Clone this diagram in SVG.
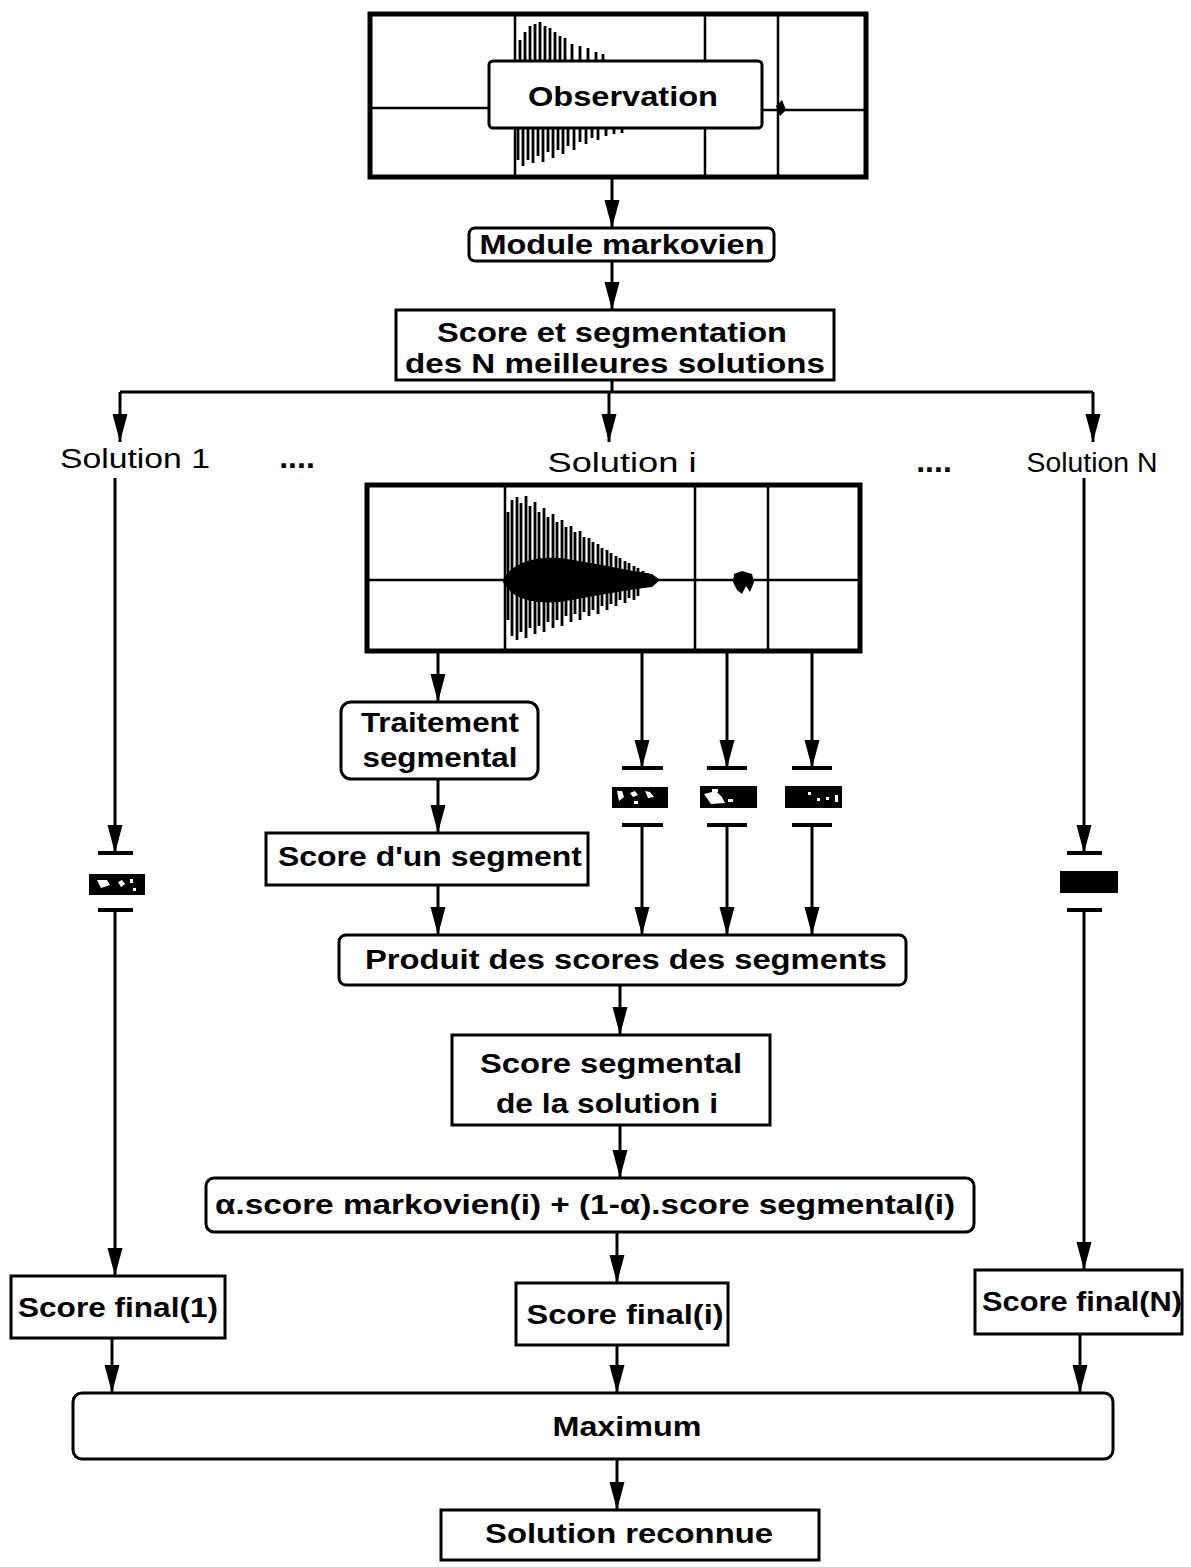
<svg xmlns="http://www.w3.org/2000/svg" width="1191" height="1567" viewBox="0 0 1191 1567">
<defs>
<style>
.box{fill:#fff;stroke:#000;stroke-width:3}
.frame{fill:#fff;stroke:#000;stroke-width:5}
.grid{fill:none;stroke:#000;stroke-width:2.5}
.wave{fill:none;stroke:#000;stroke-width:2.8}
.conn{fill:none;stroke:#000;stroke-width:3}
.bar{fill:none;stroke:#000;stroke-width:4}
.t{font-family:"Liberation Sans",Arial,sans-serif;font-weight:bold;font-size:27px;text-anchor:middle;fill:#000}
.lbl{font-family:"Liberation Sans",Arial,sans-serif;font-size:27px;text-anchor:middle;fill:#000}
.dots{font-family:"Liberation Sans",Arial,sans-serif;font-weight:bold;font-size:32px;text-anchor:middle;fill:#000}
</style>
<marker id="ah" viewBox="0 0 28 16" refX="28" refY="8" markerWidth="28" markerHeight="16" markerUnits="userSpaceOnUse" orient="auto"><path d="M0,0.5 L28,8 L0,15.5 Z" fill="#000"/></marker>
</defs>
<rect width="1191" height="1567" fill="#fff"/>

<g id="observation">
<rect class="frame" x="370" y="14" width="496" height="163"/>
<path class="grid" d="M515,16 V176 M705,16 V176 M778,16 V176 M372,108 H490 M762,110 H864"/>
<path class="wave" d="M520,60 V40 M525,60 V32 M530,60 V26 M535,60 V24 M540,60 V22 M545,60 V26 M550,60 V28 M555,60 V32 M560,60 V36 M565,60 V38 M572,60 V44 M580,60 V46 M588,60 V48 M596,60 V52 M603,60 V54 M518,128 V160 M523,128 V166 M528,128 V160 M533,128 V163 M538,128 V156 M543,128 V162 M548,128 V152 M553,128 V158 M558,128 V150 M563,128 V154 M568,128 V146 M574,128 V150 M580,128 V142 M586,128 V144 M592,128 V138 M598,128 V140 M606,128 V136 M614,128 V134 M622,128 V133"/>
<path d="M776,106 L782,100 L786,110 L780,116 Z" fill="#000"/>
<rect class="box" x="489" y="61" width="273" height="67" rx="4"/>
<text class="t" x="623" y="106" font-size="28" textLength="190" lengthAdjust="spacingAndGlyphs">Observation</text>
</g>

<g id="module">
<rect class="box" x="469" y="228" width="305" height="33" rx="6"/>
<text class="t" x="622" y="254" textLength="285" lengthAdjust="spacingAndGlyphs">Module markovien</text>
</g>

<g id="score-seg">
<rect class="box" x="396" y="310" width="438" height="70"/>
<text class="t" x="612" y="342" textLength="350" lengthAdjust="spacingAndGlyphs">Score et segmentation</text>
<text class="t" x="615" y="373" textLength="420" lengthAdjust="spacingAndGlyphs">des N meilleures solutions</text>
</g>

<g id="labels">
<text class="lbl" x="135" y="468" textLength="150" lengthAdjust="spacingAndGlyphs">Solution 1</text>
<text class="dots" x="297" y="468">....</text>
<text class="lbl" x="622" y="472" textLength="149" lengthAdjust="spacingAndGlyphs">Solution i</text>
<text class="dots" x="934" y="472">....</text>
<text class="lbl" x="1092" y="472" textLength="131" lengthAdjust="spacingAndGlyphs">Solution N</text>
</g>

<g id="solution-i-wave">
<rect class="frame" x="367" y="485" width="493" height="166"/>
<path class="grid" d="M505,487 V650 M695,487 V650 M768,487 V650 M369,580 H858"/>
<path class="wave" d="M508,580 V512 M512,580 V500 M517,580 V497 M521,580 V503 M526,580 V496 M530,580 V506 M535,580 V502 M539,580 V512 M544,580 V508 M548,580 V517 M553,580 V514 M557,580 V522 M562,580 V520 M566,580 V527 M571,580 V526 M575,580 V532 M580,580 V531 M584,580 V537 M589,580 V538 M593,580 V542 M598,580 V544 M602,580 V548 M607,580 V550 M611,580 V553 M616,580 V556 M620,580 V558 M625,580 V561 M629,580 V563 M634,580 V566 M638,580 V568 M643,580 V571 M647,580 V573 M508,580 V620 M512,580 V636 M517,580 V640 M521,580 V632 M526,580 V638 M530,580 V628 M535,580 V634 M539,580 V626 M544,580 V632 M548,580 V622 M553,580 V628 M557,580 V620 M562,580 V626 M566,580 V616 M571,580 V622 M575,580 V614 M580,580 V620 M584,580 V612 M589,580 V616 M593,580 V610 M598,580 V614 M602,580 V606 M607,580 V610 M611,580 V604 M616,580 V606 M620,580 V600 M625,580 V603 M629,580 V598 M634,580 V600 M638,580 V596"/>
<path d="M503,580 C512,562 535,556 560,558 C590,562 625,570 652,574 L660,580 L652,587 C625,590 590,597 560,602 C535,604 512,600 503,582 Z" fill="#000"/>
<path d="M734,574 L742,571 L752,574 L754,582 L750,592 L746,586 L742,594 L737,590 L733,582 Z" fill="#000"/>
</g>

<g id="traitement">
<rect class="box" x="341" y="702" width="197" height="77" rx="10"/>
<text class="t" x="440" y="732" textLength="158" lengthAdjust="spacingAndGlyphs">Traitement</text>
<text class="t" x="440" y="767" textLength="155" lengthAdjust="spacingAndGlyphs">segmental</text>
</g>

<g id="score-segment">
<rect class="box" x="266" y="833" width="322" height="52"/>
<text class="t" x="430" y="866" textLength="304" lengthAdjust="spacingAndGlyphs">Score d'un segment</text>
</g>

<g id="produit">
<rect class="box" x="339" y="935" width="567" height="50" rx="7"/>
<text class="t" x="626" y="969" textLength="522" lengthAdjust="spacingAndGlyphs">Produit des scores des segments</text>
</g>

<g id="score-segmental">
<rect class="box" x="452" y="1035" width="318" height="90"/>
<text class="t" x="611" y="1073" textLength="262" lengthAdjust="spacingAndGlyphs">Score segmental</text>
<text class="t" x="607" y="1113" textLength="222" lengthAdjust="spacingAndGlyphs">de la solution i</text>
</g>

<g id="combinaison">
<rect class="box" x="206" y="1178" width="768" height="54" rx="8"/>
<text class="t" x="585" y="1214" textLength="740" lengthAdjust="spacingAndGlyphs">α.score markovien(i) + (1-α).score segmental(i)</text>
</g>

<g id="score-final-1">
<rect class="box" x="11" y="1276" width="214" height="62"/>
<text class="t" x="118" y="1317" textLength="200" lengthAdjust="spacingAndGlyphs">Score final(1)</text>
</g>

<g id="score-final-i">
<rect class="box" x="516" y="1283" width="212" height="62"/>
<text class="t" x="625" y="1324" textLength="197" lengthAdjust="spacingAndGlyphs">Score final(i)</text>
</g>

<g id="score-final-n">
<rect class="box" x="975" y="1270" width="207" height="64"/>
<text class="t" x="1082" y="1311" textLength="200" lengthAdjust="spacingAndGlyphs">Score final(N)</text>
</g>

<g id="maximum">
<rect class="box" x="73" y="1393" width="1040" height="66" rx="9"/>
<text class="t" x="627" y="1436" textLength="149" lengthAdjust="spacingAndGlyphs">Maximum</text>
</g>

<g id="solution-reconnue">
<rect class="box" x="441" y="1510" width="378" height="50"/>
<text class="t" x="629" y="1543" textLength="288" lengthAdjust="spacingAndGlyphs">Solution reconnue</text>
</g>

<g id="segment-blocks">
<rect x="89" y="874" width="56" height="21" fill="#000"/>
<path d="M97,880 l10,0 l3,5 l-9,3 Z M118,882 l4,-2 l3,4 l-4,3 Z M130,879 l3,0 l0,4 l-3,0 Z M133,888 l3,0 l0,3 l-3,0 Z" fill="#fff"/>
<rect x="1060" y="871" width="58" height="22" fill="#000"/>
<rect x="612" y="787" width="56" height="21" fill="#000"/>
<path d="M617,791 l5,0 l2,6 l-5,4 Z M630,793 l5,-2 l3,4 l-5,2 Z M645,791 l5,1 l4,5 l-6,1 Z M634,801 l4,0 l0,3 l-4,0 Z" fill="#fff"/>
<rect x="700" y="786" width="57" height="22" fill="#000"/>
<path d="M704,794 l12,-3 l6,6 l3,6 l-14,1 Z M728,799 l5,0 l0,3 l-5,0 Z M712,789 l6,0 l0,3 l-6,0 Z" fill="#fff"/>
<rect x="785" y="786" width="57" height="22" fill="#000"/>
<path d="M808,792 l3,0 l0,3 l-3,0 Z M817,798 l3,0 l0,3 l-3,0 Z M826,797 l3,0 l0,3 l-3,0 Z M835,795 l3,0 l0,7 l-3,0 Z" fill="#fff"/>
</g>

<g id="connectors">
<path class="conn" marker-end="url(#ah)" d="M612,178 V228"/>
<path class="conn" marker-end="url(#ah)" d="M612,262 V310"/>
<path class="conn" d="M612,380 V392 M120,392 H1093"/>
<path class="conn" marker-end="url(#ah)" d="M120,392 V442"/>
<path class="conn" marker-end="url(#ah)" d="M609,392 V442"/>
<path class="conn" marker-end="url(#ah)" d="M1093,392 V442"/>
<path class="conn" marker-end="url(#ah)" d="M115,478 V853"/>
<path class="bar" d="M98,853 H133 M98,910 H133"/>
<path class="conn" marker-end="url(#ah)" d="M115,910 V1276"/>
<path class="conn" marker-end="url(#ah)" d="M1084,478 V853"/>
<path class="bar" d="M1067,853 H1102 M1067,910 H1102"/>
<path class="conn" marker-end="url(#ah)" d="M1084,910 V1270"/>
<path class="conn" marker-end="url(#ah)" d="M438,651 V702"/>
<path class="conn" marker-end="url(#ah)" d="M438,779 V833"/>
<path class="conn" marker-end="url(#ah)" d="M438,885 V935"/>
<path class="conn" marker-end="url(#ah)" d="M642,651 V768"/>
<path class="conn" marker-end="url(#ah)" d="M727,651 V768"/>
<path class="conn" marker-end="url(#ah)" d="M812,651 V768"/>
<path class="bar" d="M622,768 H663 M707,768 H747 M792,768 H832 M622,825 H663 M707,825 H747 M792,825 H832"/>
<path class="conn" marker-end="url(#ah)" d="M642,825 V935"/>
<path class="conn" marker-end="url(#ah)" d="M727,825 V935"/>
<path class="conn" marker-end="url(#ah)" d="M812,825 V935"/>
<path class="conn" marker-end="url(#ah)" d="M620,985 V1035"/>
<path class="conn" marker-end="url(#ah)" d="M620,1125 V1178"/>
<path class="conn" marker-end="url(#ah)" d="M617,1232 V1283"/>
<path class="conn" marker-end="url(#ah)" d="M112,1338 V1393"/>
<path class="conn" marker-end="url(#ah)" d="M617,1345 V1393"/>
<path class="conn" marker-end="url(#ah)" d="M1080,1334 V1393"/>
<path class="conn" marker-end="url(#ah)" d="M617,1459 V1510"/>
</g>
</svg>
